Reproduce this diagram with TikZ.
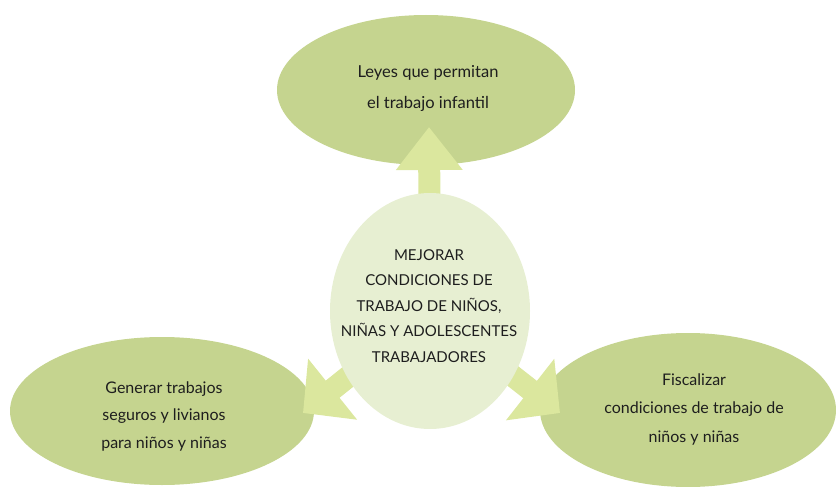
\documentclass[tikz,border=0pt]{standalone}
\usepackage{fontspec}
\setmainfont{Lato}
\usetikzlibrary{shapes.geometric,arrows.meta}
\definecolor{ellgreen}{HTML}{C5D48F}
\definecolor{arrgreen}{HTML}{DBE79E}
\definecolor{cengreen}{HTML}{E7EFD2}
\definecolor{txt}{HTML}{1E1E1E}
\tikzset{
  outer/.style={ellipse, fill=ellgreen, inner sep=0pt},
  centre/.style={ellipse, fill=cengreen, inner sep=0pt},
  lbl/.style={text=txt, align=center},
  blockarrow/.style={draw=arrgreen, line width=22pt, line cap=butt},
}
\begin{document}
\begin{tikzpicture}[x=1pt,y=-1pt]
\useasboundingbox (0,0) rectangle (836,487);
\coordinate (c) at (430,311);
\node[outer, minimum width=298pt, minimum height=150pt] (top) at (426,90) {};
\node[outer, minimum width=304pt, minimum height=148pt] (left) at (162,411) {};
\node[outer, minimum width=296pt, minimum height=154pt] (right) at (688,410) {};
\coordinate (tipT) at (429,127);
\coordinate (tipL) at (303,413);
\coordinate (tipR) at (560,413);
\draw[blockarrow, -{Triangle[length=43pt 0 0, width=64pt 0 0]}] (c) -- (tipT);
\draw[blockarrow, -{Triangle[length=38pt 0 0, width=76pt 0 0]}] (c) -- (tipL);
\draw[blockarrow, -{Triangle[length=38pt 0 0, width=76pt 0 0]}] (c) -- (tipR);
\node[centre, minimum width=200pt, minimum height=236pt] (mid) at (c) {};
\node[lbl, font=\fontsize{16.5}{31}\selectfont] (ttop) at (428,88) {Leyes que permitan\\el trabajo infantil};
\node[lbl, font=\fontsize{16}{27.5}\selectfont] (tleft) at (164,416) {Generar trabajos\\seguros y livianos\\para niños y niñas};
\node[lbl, font=\fontsize{16}{28.5}\selectfont] (tright) at (694,409) {Fiscalizar\\condiciones de trabajo de\\niños y niñas};
\node[lbl, font=\fontsize{15}{25.5}\selectfont] (tmid) at (429,306) {MEJORAR\\CONDICIONES DE\\TRABAJO DE NIÑOS,\\NIÑAS Y ADOLESCENTES\\TRABAJADORES};
\end{tikzpicture}
\end{document}
